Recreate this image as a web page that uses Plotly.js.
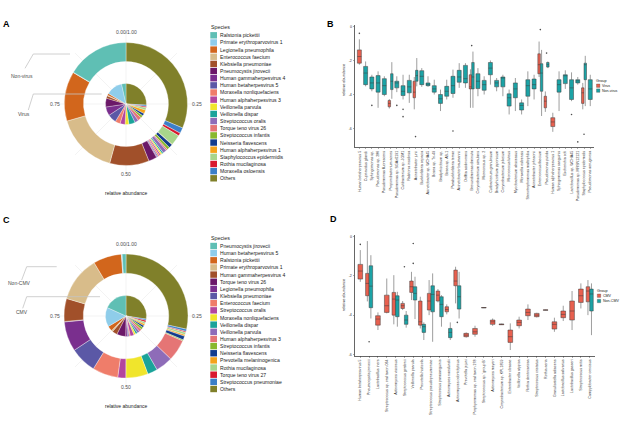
<!DOCTYPE html>
<html>
<head>
<meta charset="utf-8">
<script src="https://cdn.plot.ly/plotly-3.0.1.min.js"></script>
<style>
html,body{margin:0;padding:0;background:#ffffff;}
#chart{width:620px;height:430px;}
</style>
</head>
<body>
<div id="chart"></div>
<script>
// ================= DATA =================
// Panel A (Virus vs Non-virus), legend order
const speciesA = ["Ralstonia pickettii","Primate erythroparvovirus 1","Legionella pneumophila","Enterococcus faecium","Klebsiella pneumoniae","Pneumocystis jirovecii","Human gammaherpesvirus 4","Human betaherpesvirus 5","Moraxella nonliquefaciens","Human alphaherpesvirus 3","Veillonella parvula","Veillonella dispar","Streptococcus oralis","Torque teno virus 26","Streptococcus infantis","Neisseria flavescens","Human alphaherpesvirus 1","Staphylococcus epidermidis","Rothia mucilaginosa","Moraxella osloensis","Others"];
const abundA_NonVirus = [0.164,0.001,0.131,0.163,0.104,0.022,0.002,0.003,0.004,0.004,0.004,0.004,0.010,0.004,0.007,0.010,0.001,0.028,0.008,0.015,0.315];
const abundA_Virus    = [0.035,0.130,0.015,0.005,0.020,0.070,0.070,0.070,0.040,0.040,0.030,0.050,0.030,0.030,0.020,0.020,0.030,0.020,0.010,0.010,0.260];
const groupLabelsA = ["Non-virus","Virus"];

// Panel C (CMV vs Non-CMV), legend order
const speciesC = ["Pneumocystis jirovecii","Human betaherpesvirus 5","Ralstonia pickettii","Primate erythroparvovirus 1","Human gammaherpesvirus 4","Torque teno virus 26","Legionella pneumophila","Klebsiella pneumoniae","Enterococcus faecium","Streptococcus oralis","Moraxella nonliquefaciens","Veillonella dispar","Veillonella parvula","Human alphaherpesvirus 3","Streptococcus infantis","Neisseria flavescens","Prevotella melaninogenica","Rothia mucilaginosa","Torque teno virus 27","Streptococcus pneumoniae","Others"];
const abundC_NonCMV = [0.010,0.002,0.074,0.119,0.060,0.001,0.078,0.069,0.067,0.021,0.058,0.026,0.045,0.056,0.003,0.010,0.004,0.006,0.003,0.006,0.285];
const abundC_CMV    = [0.180,0.150,0.040,0.010,0.040,0.070,0.015,0.010,0.010,0.030,0.015,0.015,0.020,0.020,0.020,0.015,0.015,0.015,0.015,0.010,0.270];
const groupLabelsC = ["Non-CMV","CMV"];

const speciesColors = ["#5FBFB4","#8FCDEA","#D2661C","#D8BC8A","#A1502A","#6B1868","#7A2F8E","#5B58A6","#EF7D6A","#B3469E","#F0E52C","#1AA39A","#8E6CB8","#E57575","#89B82E","#133C8D","#F5A31B","#A8D58B","#D8192F","#3B7FC8","#80802A"];
const polarTicks = ["0.00/1.00","0.25","0.50","0.75"];

// Panel B (boxplots, log10 relative abundance)
const bCats = ["Human betaherpesvirus 5","Cupriavidus gilardii","Sphingomonas sp.","Pseudomonas sp. 286","Pseudomonas fluorescens","Propionibacterium acnes","Pseudomonas sp. SGAir0191","Cutibacterium sp. JGM1","Ralstonia insidiosa","Acinetobacter junii","Burkholderia cepacia","Acinetobacter sp. WCHA45","Bosea sp. Tri-49","Bradyrhizobium sp.","Bosea sp. AS-1","Paraburkholderia terrae","Acinetobacter baumannii","Delftia acidovorans","Brevundimonas diminuta","Corynebacterium simulans","Micrococcus sp. 2","Cutibacterium granulosum","Bradyrhizobium japonicum","Corynebacterium jeikeium","Micrococcus luteus","Mycobacterium abscessus","Moraxella osloensis","Stenotrophomonas maltophilia","Acinetobacter johnsonii","Enterococcus faecium","Pseudomonas putida","Human alphaherpesvirus 1","Sphingomonas sanguinis","Escherichia coli","Lactobacillus sp. WCHA45","Pseudomonas sp. MRSN12121","Staphylococcus epidermidis","Pseudomonas aeruginosa"];
const bVirusSpecies = ["Human betaherpesvirus 5","Propionibacterium acnes","Acinetobacter junii","Brevundimonas diminuta","Enterococcus faecium","Pseudomonas putida","Human alphaherpesvirus 1","Staphylococcus epidermidis"];
const bVirusQ1  = [-2.14,-4.70,-4.17,-3.65,-2.76,-4.76,-5.86,-4.50];
const bVirusMed = [-1.75,-4.50,-3.84,-3.53,-2.23,-4.37,-5.59,-3.88];
const bVirusQ3  = [-1.36,-4.33,-3.20,-2.82,-1.59,-4.08,-5.34,-3.59];
const bVirusLo  = [-2.23,-4.80,-4.85,-4.76,-2.95,-5.00,-6.17,-4.85];
const bVirusHi  = [-0.74,-4.25,-2.95,-2.50,-0.87,-3.80,-5.05,-3.30];
const bNonVirusSpecies = bCats.filter(s => s !== "Human betaherpesvirus 5" && s !== "Human alphaherpesvirus 1");
const bNonVirusQ1  = [-3.40,-3.65,-3.84,-3.98,-3.69,-3.59,-4.04,-3.88,-3.20,-3.40,-3.46,-3.84,-4.50,-4.08,-3.92,-3.26,-3.30,-3.65,-3.63,-3.73,-2.82,-3.53,-3.53,-4.66,-4.17,-4.89,-4.08,-3.65,-3.79,-2.37,-3.84,-3.34,-4.27,-3.30,-3.11,-4.27];
const bNonVirusMed = [-2.72,-3.30,-3.30,-3.46,-3.20,-3.30,-3.79,-3.53,-2.87,-2.91,-3.38,-3.65,-4.23,-3.79,-3.46,-2.95,-3.05,-2.95,-3.20,-3.40,-2.43,-3.30,-3.01,-4.17,-3.65,-4.62,-3.46,-3.40,-2.72,-2.23,-3.40,-2.87,-3.59,-3.18,-2.23,-3.65];
const bNonVirusQ3  = [-2.33,-2.95,-2.87,-3.05,-2.76,-3.20,-3.46,-3.15,-2.56,-2.58,-3.30,-3.46,-3.98,-3.50,-2.91,-2.56,-2.27,-2.10,-2.76,-3.15,-2.10,-3.15,-2.95,-3.94,-3.30,-4.47,-3.11,-3.07,-2.17,-2.10,-3.11,-2.82,-3.11,-3.11,-2.14,-3.11];
const bNonVirusLo  = [-3.50,-3.79,-4.76,-4.08,-4.23,-3.84,-4.27,-4.47,-3.50,-3.53,-3.53,-3.98,-4.95,-4.27,-4.17,-3.59,-3.59,-4.76,-4.08,-3.98,-3.40,-3.79,-4.08,-5.15,-4.95,-5.15,-4.66,-4.27,-5.24,-2.43,-4.95,-3.65,-4.37,-3.40,-4.66,-4.66];
const bNonVirusHi  = [-2.04,-2.82,-2.62,-2.91,-2.08,-2.91,-2.82,-2.82,-1.84,-2.43,-2.91,-3.11,-3.69,-3.11,-2.52,-2.14,-2.14,-1.46,-2.43,-2.91,-1.98,-3.01,-2.82,-3.69,-3.01,-4.27,-2.62,-2.82,-1.36,-2.04,-2.62,-2.56,-2.68,-2.95,-1.71,-2.82];
const bOutlierSpecies = ["Human betaherpesvirus 5","Sphingomonas sp.","Pseudomonas sp. SGAir0191","Cutibacterium sp. JGM1","Cutibacterium sp. JGM1","Acinetobacter junii","Paraburkholderia terrae","Brevundimonas diminuta","Enterococcus faecium","Pseudomonas putida","Lactobacillus sp. WCHA45","Pseudomonas sp. MRSN12121","Staphylococcus epidermidis"];
const bOutlierValues  = [-0.39,-4.62,-4.62,-4.85,-5.28,-6.45,-6.12,-1.11,-0.17,-1.55,-5.15,-6.76,-6.31];
const bGroups = ["Virus","Non-virus"];

// Panel D
const dCats = ["Human betaherpesvirus 5","Pneumocystis jirovecii","Lactobacillus iners","Streptococcus sp. oral taxon 064","Actinomyces viscosus","Streptococcus gordonii","Veillonella parvula","Prevotella histicola","Streptococcus pseudopneumoniae","Streptococcus parasanguinis","Actinomyces naeslundii","Actinomyces odontolyticus","Prevotella jejuni","Porphyromonas sp. oral taxon 278","Streptococcus sp. 'group B'","Actinomyces meyeri","Corynebacterium sp. KPL1859","Enterobacter cloacae","Veillonella atypica","Rothia dentocariosa","Streptococcus cristatus","Rothia aeria","Granulicatella adiacens","Lactobacillus salivarius","Lactobacillus gasseri","Streptococcus mitis","Campylobacter concisus"];
const dCmvSpecies = dCats.slice();
const dCmvQ1  = [-2.16,-3.01,-4.51,-3.86,-4.00,-3.66,-2.84,-4.51,-3.74,-3.28,-3.83,-2.50,-5.10,-4.98,-3.63,-4.47,-4.49,-5.39,-4.54,-4.03,-4.08,-3.75,-4.71,-4.13,-4.25,-3.35,-3.32];
const dCmvMed = [-1.75,-2.38,-4.20,-3.52,-3.18,-3.52,-2.55,-4.34,-3.28,-2.98,-3.71,-2.26,-5.02,-4.85,-3.62,-4.34,-4.47,-5.10,-4.37,-3.86,-4.00,-3.74,-4.47,-3.96,-3.79,-3.01,-2.77];
const dCmvQ3  = [-1.41,-1.87,-4.03,-2.98,-2.84,-3.40,-2.26,-3.28,-2.89,-2.77,-3.57,-1.70,-4.93,-4.68,-3.61,-4.25,-4.45,-4.76,-4.25,-3.69,-3.91,-3.73,-4.34,-3.79,-3.28,-2.67,-2.55];
const dCmvLo  = [-2.30,-3.30,-4.76,-3.91,-4.47,-3.74,-3.23,-4.68,-4.00,-3.35,-3.96,-3.40,-5.15,-5.10,-3.64,-4.55,-4.50,-5.78,-4.68,-4.25,-4.12,-3.76,-4.85,-4.30,-4.76,-3.66,-4.00];
const dCmvHi  = [-0.68,-0.22,-3.86,-2.13,-1.96,-3.28,-1.79,-3.06,-2.21,-2.67,-3.45,-1.53,-4.88,-4.54,-3.60,-4.17,-4.44,-4.42,-4.08,-3.45,-3.88,-3.72,-4.13,-3.52,-2.77,-2.38,-2.21];
const dNonCmvSpecies = ["Pneumocystis jirovecii","Actinomyces viscosus","Streptococcus gordonii","Veillonella parvula","Prevotella histicola","Streptococcus pseudopneumoniae","Streptococcus parasanguinis","Actinomyces naeslundii","Actinomyces odontolyticus","Campylobacter concisus"];
const dNonCmvQ1  = [-3.62,-4.08,-4.47,-3.23,-4.88,-3.83,-4.08,-5.15,-3.69,-3.79];
const dNonCmvMed = [-2.52,-3.23,-4.25,-2.89,-4.59,-2.94,-3.45,-4.88,-3.06,-2.92];
const dNonCmvQ3  = [-1.48,-3.01,-4.00,-2.55,-4.47,-2.50,-3.06,-4.68,-2.50,-2.67];
const dNonCmvLo  = [-4.17,-4.59,-4.64,-4.20,-5.27,-5.36,-4.59,-5.27,-4.17,-5.02];
const dNonCmvHi  = [-0.94,-2.81,-3.79,-2.04,-4.37,-1.87,-2.98,-4.37,-1.79,-2.38];
const dOutlierSpecies = ["Human betaherpesvirus 5","Pneumocystis jirovecii","Streptococcus gordonii","Veillonella parvula","Veillonella parvula","Actinomyces odontolyticus"];
const dOutlierValues  = [-0.39,-5.36,-1.53,-1.36,-0.34,-4.37];
const dGroups = ["CMV","Non-CMV"];

const yTickVals = [0,-2,-4,-6];
const yTickText = ["0","-2","-4","-6"];
const groupColors = ["#E8604F","#1BA3A6"];

// ================= BUILD =================
const W = 620, H = 430;
const px = v => v / W;
const py = v => 1 - v / H;
const FONT = "Liberation Sans, Arial, Helvetica, sans-serif";
const data = [], shapes = [], annotations = [];

function txt(text, x, y, size, opts) {
  annotations.push(Object.assign({text: text, xref: "paper", yref: "paper", x: px(x), y: py(y),
    showarrow: false, xanchor: "center", yanchor: "middle", borderpad: 0,
    font: {family: FONT, size: size, color: "#333333"}}, opts || {}));
}
function rect(x0, y0, x1, y1, fill, lineColor) {
  shapes.push({type: "rect", xref: "paper", yref: "paper", x0: px(x0), x1: px(x1), y0: py(y1), y1: py(y0),
    fillcolor: fill, line: {color: lineColor || fill, width: lineColor ? 0.3 : 0}});
}
function path(points, color, width, layer) {
  const d = points.map((p, i) => (i ? "L" : "M") + px(p[0]) + "," + py(p[1])).join(" ");
  shapes.push({type: "path", xref: "paper", yref: "paper", path: d, layer: layer || "above",
    line: {color: color, width: width}});
}

function addDonut(labels, outerVals, innerVals, cx, cy, R, r, hole) {
  // faint polar grid
  for (let k = 0; k < 8; k++) {
    const a = k * Math.PI / 4;
    path([[cx, cy], [cx + 72 * Math.sin(a), cy - 72 * Math.cos(a)]], "#ebebeb", 0.6, "below");
  }
  // stacked like ggplot: last legend entry starts at 12 o'clock, going clockwise
  const revLabels = labels.slice().reverse();
  const revColors = speciesColors.slice().reverse();
  const common = {type: "pie", labels: revLabels, sort: false, direction: "clockwise", rotation: 0,
    textinfo: "none", hoverinfo: "label+percent", showlegend: false};
  data.push(Object.assign({}, common, {values: outerVals.slice().reverse(), hole: hole,
    marker: {colors: revColors, line: {color: "#ffffff", width: 0.35}},
    domain: {x: [px(cx - R), px(cx + R)], y: [py(cy + R), py(cy - R)]}}));
  data.push(Object.assign({}, common, {values: innerVals.slice().reverse(),
    marker: {colors: revColors, line: {color: "#ffffff", width: 0.3}},
    domain: {x: [px(cx - r), px(cx + r)], y: [py(cy + r), py(cy - r)]}}));
  const tf = {family: FONT, size: 5, color: "#4d4d4d"};
  txt(polarTicks[0], cx, cy - 72, 5, {font: tf});
  txt(polarTicks[1], cx + 71, cy, 5, {font: tf});
  txt(polarTicks[2], cx, cy + 70.5, 5, {font: tf});
  txt(polarTicks[3], cx - 71.5, cy, 5, {font: tf});
  txt("relative abundance", cx, cy + 89.5, 5, {font: {family: FONT, size: 5, color: "#1a1a1a"}});
}

function addSpeciesLegend(labels, x, yTitle, yFirst, step) {
  txt("Species", x, yTitle, 5.3, {xanchor: "left", font: {family: FONT, size: 5.3, color: "#1a1a1a"}});
  labels.forEach((s, i) => {
    const yc = yFirst + i * step;
    rect(x + 0.3, yc - 3.2, x + 7, yc + 3.2, speciesColors[i]);
    txt(s, x + 9.3, yc, 5.1, {xanchor: "left", font: {family: FONT, size: 5.1, color: "#1a1a1a"}});
  });
}

// Panel A
addDonut(speciesA, abundA_NonVirus, abundA_Virus, 126, 104, 61.5, 20.5, 0.69);
addSpeciesLegend(speciesA, 210, 26.7, 35.3, 7.15);
path([[25, 68.3], [33.3, 54], [70, 54]], "#c4c4c4", 0.8);
path([[28.3, 110], [33.3, 94], [101.7, 94]], "#c4c4c4", 0.8);
txt(groupLabelsA[0], 21.7, 76, 5, {font: {family: FONT, size: 5, color: "#4d4d4d"}});
txt(groupLabelsA[1], 24, 114.3, 5, {font: {family: FONT, size: 5, color: "#4d4d4d"}});

// Panel C
addDonut(speciesC, abundC_NonCMV, abundC_CMV, 126, 316, 62, 20.5, 0.69);
addSpeciesLegend(speciesC, 210, 238.3, 246, 7.15);
path([[21.7, 280], [26.7, 266.7], [56.7, 266.7]], "#c4c4c4", 0.8);
path([[22.7, 308.3], [26.7, 296.7], [100, 296.7]], "#c4c4c4", 0.8);
txt(groupLabelsC[0], 19, 283.3, 5, {font: {family: FONT, size: 5, color: "#4d4d4d"}});
txt(groupLabelsC[1], 21.7, 311.7, 5, {font: {family: FONT, size: 5, color: "#4d4d4d"}});

// Boxplots
function addBoxes(groups, xa, ya, singleWidth) {
  const sets = groups.map(g => new Set(g.species));
  groups.forEach((g, gi) => {
    const other = sets[1 - gi];
    const mk = () => ({x: [], q1: [], median: [], q3: [], lowerfence: [], upperfence: []});
    const dual = mk(), single = mk();
    g.species.forEach((s, i) => {
      const t = other.has(s) ? dual : single;
      t.x.push(s); t.q1.push(g.q1[i]); t.median.push(g.med[i]); t.q3.push(g.q3[i]);
      t.lowerfence.push(g.lo[i]); t.upperfence.push(g.hi[i]);
    });
    const common = {type: "box", name: g.name, boxpoints: false, fillcolor: g.color,
      line: {color: "#3d3d3d", width: 0.5}, whiskerwidth: 0, hoverinfo: "y+name",
      showlegend: false, xaxis: xa, yaxis: ya};
    if (dual.x.length) data.push(Object.assign({}, common, dual, {offsetgroup: g.name}));
    if (single.x.length) data.push(Object.assign({}, common, single, {width: singleWidth}));
  });
}
addBoxes([
  {name: bGroups[0], color: groupColors[0], species: bVirusSpecies, q1: bVirusQ1, med: bVirusMed, q3: bVirusQ3, lo: bVirusLo, hi: bVirusHi},
  {name: bGroups[1], color: groupColors[1], species: bNonVirusSpecies, q1: bNonVirusQ1, med: bNonVirusMed, q3: bNonVirusQ3, lo: bNonVirusLo, hi: bNonVirusHi}
], "x", "y", 0.64);
data.push({type: "scatter", mode: "markers", x: bOutlierSpecies, y: bOutlierValues, xaxis: "x", yaxis: "y",
  marker: {size: 1.6, color: "#4d4d4d"}, hoverinfo: "y", showlegend: false});

addBoxes([
  {name: dGroups[0], color: groupColors[0], species: dCmvSpecies, q1: dCmvQ1, med: dCmvMed, q3: dCmvQ3, lo: dCmvLo, hi: dCmvHi},
  {name: dGroups[1], color: groupColors[1], species: dNonCmvSpecies, q1: dNonCmvQ1, med: dNonCmvMed, q3: dNonCmvQ3, lo: dNonCmvLo, hi: dNonCmvHi}
], "x2", "y2", 0.53);
data.push({type: "scatter", mode: "markers", x: dOutlierSpecies, y: dOutlierValues, xaxis: "x2", yaxis: "y2",
  marker: {size: 1.6, color: "#4d4d4d"}, hoverinfo: "y", showlegend: false});

function catAxis(domainPx, cats, range, anchor) {
  return {domain: [px(domainPx[0]), px(domainPx[1])], anchor: anchor, type: "category",
    categoryorder: "array", categoryarray: cats, tickmode: "array", tickvals: cats, ticktext: cats,
    range: range, showline: true, linecolor: "#000000", linewidth: 0.6, ticks: "outside",
    ticklen: 1.8, tickwidth: 0.4, tickcolor: "#333333", tickangle: -90,
    tickfont: {family: FONT, size: 3.6, color: "#333333"}, showgrid: false, zeroline: false, fixedrange: true};
}
function valAxis(topPx, botPx, range, anchor) {
  return {domain: [py(botPx), py(topPx)], anchor: anchor, range: range, tickmode: "array",
    tickvals: yTickVals, ticktext: yTickText, showline: true, linecolor: "#000000", linewidth: 0.6,
    ticks: "outside", ticklen: 1.8, tickwidth: 0.4, tickcolor: "#333333",
    tickfont: {family: FONT, size: 3.6, color: "#333333"}, showgrid: false, zeroline: false, fixedrange: true};
}

txt("relative abundance", 344, 80, 3.8, {textangle: -90, font: {family: FONT, size: 3.8, color: "#1a1a1a"}});
txt("relative abundance", 344, 295, 3.8, {textangle: -90, font: {family: FONT, size: 3.8, color: "#1a1a1a"}});

// group legends for B and D
function groupLegend(names, x, yTitle, y1, y2) {
  txt("Group", x - 1.5, yTitle, 3.8, {xanchor: "left", font: {family: FONT, size: 3.8, color: "#1a1a1a"}});
  [y1, y2].forEach((yc, i) => {
    rect(x, yc - 1.7, x + 3.4, yc + 1.7, groupColors[i], "#3d3d3d");
    txt(names[i], x + 4.6, yc, 3.6, {xanchor: "left", font: {family: FONT, size: 3.6, color: "#1a1a1a"}});
  });
}
groupLegend(bGroups, 596.5, 80.5, 85.7, 90.6);
groupLegend(dGroups, 597.3, 291, 295.7, 301);

// panel letters
[["A", 6, 24], ["B", 331, 24], ["C", 6, 220], ["D", 333, 219]].forEach(l =>
  txt("<b>" + l[0] + "</b>", l[1], l[2], 9, {font: {family: FONT, size: 9, color: "#000000"}}));

const layout = {
  width: W, height: H, margin: {l: 0, r: 0, t: 0, b: 0}, showlegend: false,
  paper_bgcolor: "#ffffff", plot_bgcolor: "rgba(0,0,0,0)", font: {family: FONT},
  boxmode: "group", boxgap: 0.2, boxgroupgap: 0,
  xaxis: catAxis([355, 594], bCats, [-0.7, 37.6], "y"),
  yaxis: valAxis(25, 147, [-7.06, 0.1], "x"),
  xaxis2: catAxis([355, 595], dCats, [-0.6, 26.6], "y2"),
  yaxis2: valAxis(235, 355.7, [-6.07, 0.09], "x2"),
  shapes: shapes, annotations: annotations
};
Plotly.newPlot("chart", data, layout, {staticPlot: true, displayModeBar: false});
</script>
</body>
</html>
